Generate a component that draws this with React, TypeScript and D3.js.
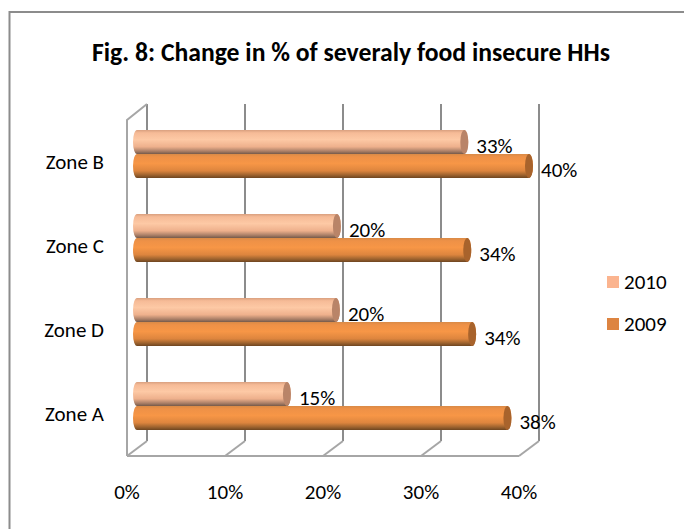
import React from "react";
import * as d3 from "d3";

const categories = ["Zone B", "Zone C", "Zone D", "Zone A"];
const values2010 = [33.4, 20.4, 20.3, 15.3];
const values2009 = [40, 33.7, 34.2, 37.8];
const xTicks = [0, 10, 20, 30, 40];
const legendItems = ["2010", "2009"];
const legendColors = ["#fbb48f", "#dd8441"];
const chartTitle = "Fig. 8: Change in % of severaly food insecure HHs";

const FONT = "Carlito, Calibri, 'Open Sans', 'Noto Sans', sans-serif";
const GRID = "#8c8c8c";
const FLOOR = "#a6a6a6";

// front plane of the fake 3D box, the back wall sits DX/DY away from it
const x = d3.scaleLinear().domain([0, 40]).range([127, 519]);
const y = d3.scaleBand().domain(categories).range([112, 448]);
const FRONT_TOP = 120;
const FRONT_BOTTOM = 456;
const DX = 20;
const DY = -15;
const BAR_H = 24;
const BAR_SHIFT = 10;
const pct = d3.format(".0f");

function Bar({ value, top, light }: { value: number; top: number; light: boolean }) {
  const x0 = x(0) + BAR_SHIFT;
  const x1 = x(value) + BAR_SHIFT;
  const rx = 4;
  const ry = BAR_H / 2;
  return (
    <g>
      <path
        d={`M${x0},${top} L${x1},${top} A${rx},${ry} 0 0 1 ${x1},${top + BAR_H} L${x0},${top + BAR_H} A${rx},${ry} 0 0 1 ${x0},${top} Z`}
        fill={light ? "url(#grad2010)" : "url(#grad2009)"}
      />
      <ellipse cx={x1} cy={top + ry} rx={rx} ry={ry} fill={light ? "#b98468" : "#a8632c"} />
    </g>
  );
}

export default function App() {
  const mid = (c: string) => y(c)! + y.bandwidth() / 2;
  return (
    <svg
      width={684}
      height={529}
      style={{ position: "absolute", left: 0, top: 0, fontFamily: FONT }}
    >
      <defs>
        <linearGradient id="grad2010" x1="0" y1="0" x2="0" y2="1">
          <stop offset="0" stopColor="#d9a07f" />
          <stop offset="0.12" stopColor="#f6bb97" />
          <stop offset="0.4" stopColor="#fdc9a5" />
          <stop offset="0.7" stopColor="#eeb08c" />
          <stop offset="0.88" stopColor="#ab8068" />
          <stop offset="1" stopColor="#75594a" />
        </linearGradient>
        <linearGradient id="grad2009" x1="0" y1="0" x2="0" y2="1">
          <stop offset="0" stopColor="#d98a47" />
          <stop offset="0.12" stopColor="#ee9147" />
          <stop offset="0.4" stopColor="#f79646" />
          <stop offset="0.7" stopColor="#dd853e" />
          <stop offset="0.88" stopColor="#9c622e" />
          <stop offset="1" stopColor="#6e4520" />
        </linearGradient>
      </defs>
      {/* chart frame runs off the right and bottom of the picture */}
      <path d="M9.5,529 V12 H684" fill="none" stroke="#8c8c8c" strokeWidth={2} />
      <text x={351} y={61} textAnchor="middle" fontSize={25.7} fontWeight="bold" fill="#000">
        {chartTitle}
      </text>

      {xTicks.map((t) => (
        <g key={t}>
          <path
            d={`M${x(t) + DX},${FRONT_TOP + DY - 1} V${FRONT_BOTTOM + DY}`}
            fill="none"
            stroke={GRID}
            strokeWidth={2}
          />
          <path
            d={`M${x(t)},${FRONT_BOTTOM} L${x(t) + DX},${FRONT_BOTTOM + DY}`}
            fill="none"
            stroke={FLOOR}
            strokeWidth={2}
          />
        </g>
      ))}
      <path
        d={`M${x(0)},${FRONT_BOTTOM} V${FRONT_TOP} L${x(0) + DX},${FRONT_TOP + DY - 1}`}
        fill="none"
        stroke={FLOOR}
        strokeWidth={2}
      />
      <path d={`M${x(0)},${FRONT_BOTTOM} H${x(40)}`} fill="none" stroke={FLOOR} strokeWidth={2} />

      {categories.map((c, i) => {
        const m = mid(c);
        return (
          <g key={c}>
            <Bar value={values2010[i]} top={m - BAR_H} light />
            <Bar value={values2009[i]} top={m} light={false} />
            <text x={x(values2010[i]) + BAR_SHIFT + 12} y={m - 1.5} fontSize={21} fill="#000">
              {pct(values2010[i])}%
            </text>
            <text x={x(values2009[i]) + BAR_SHIFT + 12} y={m + 22.5} fontSize={21} fill="#000">
              {pct(values2009[i])}%
            </text>
            <text x={104} y={m + 15} textAnchor="end" fontSize={21} fill="#000">
              {c}
            </text>
          </g>
        );
      })}

      {xTicks.map((t) => (
        <text key={t} x={x(t)} y={499} textAnchor="middle" fontSize={21} fill="#000">
          {t}%
        </text>
      ))}

      {legendItems.map((l, i) => (
        <g key={l}>
          <rect x={607} y={276 + i * 42} width={12} height={12} fill={legendColors[i]} />
          <text x={624} y={289 + i * 42} fontSize={21} fill="#000">
            {l}
          </text>
        </g>
      ))}
    </svg>
  );
}
